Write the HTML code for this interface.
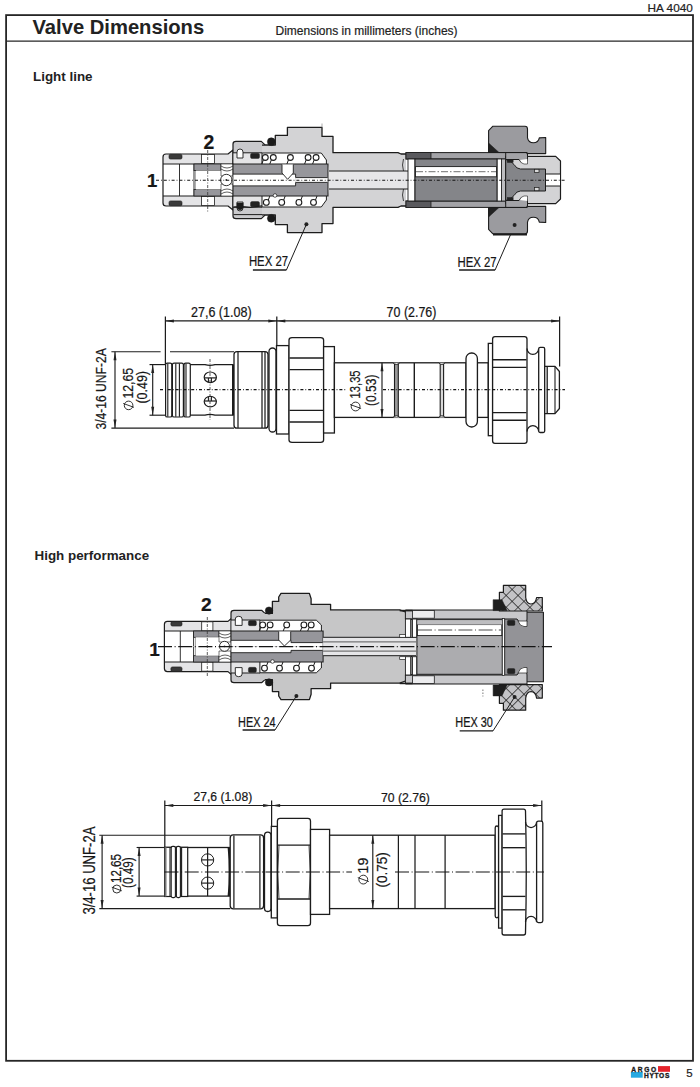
<!DOCTYPE html>
<html><head><meta charset="utf-8"><style>
html,body{margin:0;padding:0;background:#fff;}
body{width:700px;height:1087px;position:relative;overflow:hidden;font-family:"Liberation Sans",sans-serif;color:#222;}
.t{position:absolute;white-space:nowrap;line-height:1;}
svg{position:absolute;left:0;top:0;}
svg text{font-family:"Liberation Sans",sans-serif;fill:#161616;stroke:#161616;stroke-width:0.22px;}
</style></head><body>
<div class="t" style="left:647.6px;top:3.0px;font-size:11.8px;-webkit-text-stroke:0.2px #222;">HA 4040</div>

<div class="t" style="left:32.5px;top:16.7px;font-size:20.2px;font-weight:700;">Valve Dimensions</div>
<div class="t" style="left:275.5px;top:24.6px;font-size:12px;-webkit-text-stroke:0.2px #222;">Dimensions in millimeters (inches)</div>
<div class="t" style="left:33px;top:70.3px;font-size:13.4px;font-weight:700;">Light line</div>
<div class="t" style="left:34.5px;top:548.6px;font-size:13.4px;font-weight:700;">High performance</div>
<svg width="700" height="1087" viewBox="0 0 700 1087">
<defs><clipPath id="c1"><rect x="0" y="0" width="700" height="180"/></clipPath><clipPath id="c3"><rect x="0" y="500" width="700" height="146.5"/></clipPath><clipPath id="c3r"><rect x="0" y="500" width="700" height="147"/></clipPath><pattern id="xh" patternUnits="userSpaceOnUse" width="8.4" height="8.4" patternTransform="translate(512.1,600.7) rotate(45)"><rect width="8.4" height="8.4" fill="#c3c3c6"/><path d="M0,0 L8.4,0 M0,0 L0,8.4" stroke="#151515" stroke-width="1.25"/></pattern></defs>
<rect x="6.1" y="15.1" width="686.9" height="1045.7" fill="none" stroke="#262626" stroke-width="1.8"/>
<line x1="6" y1="41.1" x2="693" y2="41.1" stroke="#262626" stroke-width="1.2"/>
<g clip-path="url(#c1)"><path d="M163,184 L163,157 Q163,154 166,154 L228,154 L233,150 L233,164 L163,164" fill="#e4e4e6" stroke="#1c1c1c" stroke-width="1.2" stroke-linejoin="round" /><rect x="169" y="154.3" width="13" height="4.8" rx="1.5" fill="#3a3a3a" stroke="#1c1c1c" stroke-width="0.6" /><rect x="201.5" y="154.5" width="13" height="9" rx="0" fill="#fff" stroke="#1c1c1c" stroke-width="0.8" /><line x1="179.5" y1="164" x2="179.5" y2="180" stroke="#1c1c1c" stroke-width="0.9" /><line x1="194" y1="164" x2="194" y2="180" stroke="#1c1c1c" stroke-width="0.9" /><line x1="196" y1="170" x2="196" y2="180" stroke="#1c1c1c" stroke-width="0.7" /><rect x="194" y="164" width="27" height="6.6" rx="0" fill="#96969b" stroke="#1c1c1c" stroke-width="0.8" /><rect x="196" y="170.6" width="25" height="13.400000000000006" rx="0" fill="#fff" stroke="none" /><path d="M221,164 L233,164 L233,176 L221,176 Z" fill="#fff" stroke="#1c1c1c" stroke-width="0.6" stroke-linejoin="round" /><path d="M221,166 Q227,170 233,166" fill="none" stroke="#1c1c1c" stroke-width="0.7" stroke-linejoin="round" /><path d="M221,169 Q227,173 233,169" fill="none" stroke="#1c1c1c" stroke-width="0.7" stroke-linejoin="round" /><path d="M233,164 L233,144 Q233,141.4 236,141.4 L261.3,141.4 L265.3,145.1 L275,145.1 L275,153 L262,153 L262,164 Z" fill="#c9c9cc" stroke="#1c1c1c" stroke-width="1.2" stroke-linejoin="round" /><rect x="233.6" y="152.8" width="28.4" height="11.2" rx="0" fill="#e4e4e6" stroke="none" /><line x1="233" y1="152.8" x2="262" y2="152.8" stroke="#1c1c1c" stroke-width="1.0" /><polygon points="262,153 262,145.1 275.3,145.1 275.3,135.4 287.4,135.4 287.4,127.4 322,127.4 322,136.4 333,136.4 333,152.7 398,152.7 401,154 406,154 406,184 329,184 329,169 326.4,160 321.3,152.5" fill="#d3d3d5" stroke="none" stroke-width="0" stroke-linejoin="round" /><path d="M262,145.1 L275.3,145.1 L275.3,135.4 L287.4,135.4 L287.4,127.4 L322,127.4 L322,136.4 L333,136.4 L333,152.7 L398,152.7 L401,154 L406,154" fill="none" stroke="#1c1c1c" stroke-width="1.3" stroke-linejoin="round" /><circle cx="271.3" cy="141.7" r="3.9" fill="#1a1a1a" stroke="#1c1c1c" stroke-width="0.5"/><path d="M237,158 L237,152 Q237,149 240,149 Q243,149 243,152 L243,158 Z" fill="#fff" stroke="#1c1c1c" stroke-width="0.9" stroke-linejoin="round" /><rect x="250.5" y="153.3" width="9" height="5.2" rx="1.5" fill="#222" stroke="#1c1c1c" stroke-width="0.4" /><path d="M262,153 L321.3,153 L326.4,160 L326.4,169 L262,169 Z" fill="#fff" stroke="#1c1c1c" stroke-width="1.0" stroke-linejoin="round" /><rect x="233" y="164" width="95" height="20" rx="0" fill="#96969b" stroke="#1c1c1c" stroke-width="1.0" /><rect x="233.5" y="174.1" width="62.1" height="9.900000000000006" rx="0" fill="#fff" stroke="none" /><line x1="233" y1="174.1" x2="295.6" y2="174.1" stroke="#1c1c1c" stroke-width="0.9" /><line x1="295.6" y1="174.1" x2="295.6" y2="177.6" stroke="#1c1c1c" stroke-width="0.9" /><rect x="295.6" y="177.6" width="32" height="6.400000000000006" rx="0" fill="#fff" stroke="none" /><line x1="295.6" y1="177.6" x2="327.6" y2="177.6" stroke="#1c1c1c" stroke-width="0.9" /><rect x="329" y="171" width="86" height="13" rx="0" fill="#e6e6e8" stroke="none" /><line x1="329" y1="171" x2="415" y2="171" stroke="#1c1c1c" stroke-width="1.0" /><rect x="406" y="152.6" width="121" height="6.4" rx="0" fill="#a3a3a7" stroke="#1c1c1c" stroke-width="1.0" /><rect x="406" y="152.6" width="25" height="6.4" rx="0" fill="#5a5a5e" stroke="#1c1c1c" stroke-width="0.8" /><path d="M403.5,159 Q401.5,165 403.5,171" fill="none" stroke="#1c1c1c" stroke-width="0.8" stroke-linejoin="round" /><rect x="408" y="159" width="7" height="25" rx="0" fill="#fff" stroke="#1c1c1c" stroke-width="0.9" /><rect x="497" y="159" width="4.5" height="25" rx="0" fill="#fff" stroke="#1c1c1c" stroke-width="0.8" /><rect x="501.5" y="159" width="4.2" height="25" rx="0" fill="#bdbdc0" stroke="#1c1c1c" stroke-width="0.8" /><path d="M505.7,184 L505.7,156.4 L555.7,156.4 L560.5,161 L560.5,184 Z" fill="#d3d3d5" stroke="#1c1c1c" stroke-width="1.2" stroke-linejoin="round" /><path d="M505.7,184 L505.7,159.5 Q511,160 514,164.5 Q516.5,169 520.5,169 L545.5,169 L545.5,184 Z" fill="#848589" stroke="#1c1c1c" stroke-width="1.0" stroke-linejoin="round" /><rect x="545.5" y="174" width="15" height="10" rx="0" fill="#fff" stroke="#1c1c1c" stroke-width="1.0" /><rect x="534.5" y="169.3" width="4.5" height="3.2" rx="0" fill="#d8d8d8" stroke="#1c1c1c" stroke-width="0.7" /><path d="M505.7,152.6 L527.5,152.6 L527.5,158 Q527.5,163 523.5,163 Q520.5,163 519,159.5 L505.7,159.5 Z" fill="#a3a3a7" stroke="#1c1c1c" stroke-width="1.0" stroke-linejoin="round" /><path d="M519.5,160 Q521,163.5 524,164 L527.5,164 L527.5,159" fill="#fff" stroke="#1c1c1c" stroke-width="0.6" stroke-linejoin="round" /><rect x="507.2" y="159.8" width="6" height="2.8" rx="0" fill="#222" stroke="#1c1c1c" stroke-width="0.3" /><path d="M488.6,152.5 L488.6,130.7 L492.9,126.2 L525,126.2 Q527.5,126.2 527.5,129 L527.5,137.9 A6,6 0 0 0 539.3,137.9 L545.7,137.5 L545.7,153.6 L527,153.6 L527,152.5 Z" fill="#9b9b9f" stroke="#1c1c1c" stroke-width="1.1" stroke-linejoin="round" /><path d="M488.6,143 L499,152.5 L488.6,152.5 Z" fill="#222" stroke="#1c1c1c" stroke-width="0.5" stroke-linejoin="round" /></g><g transform="matrix(1,0,0,-1,0,360)"><g clip-path="url(#c1)"><path d="M163,184 L163,157 Q163,154 166,154 L228,154 L233,150 L233,164 L163,164" fill="#e4e4e6" stroke="#1c1c1c" stroke-width="1.2" stroke-linejoin="round" /><rect x="169" y="154.3" width="13" height="4.8" rx="1.5" fill="#3a3a3a" stroke="#1c1c1c" stroke-width="0.6" /><rect x="201.5" y="154.5" width="13" height="9" rx="0" fill="#fff" stroke="#1c1c1c" stroke-width="0.8" /><line x1="179.5" y1="164" x2="179.5" y2="180" stroke="#1c1c1c" stroke-width="0.9" /><line x1="194" y1="164" x2="194" y2="180" stroke="#1c1c1c" stroke-width="0.9" /><line x1="196" y1="170" x2="196" y2="180" stroke="#1c1c1c" stroke-width="0.7" /><rect x="194" y="164" width="27" height="6.6" rx="0" fill="#96969b" stroke="#1c1c1c" stroke-width="0.8" /><rect x="196" y="170.6" width="25" height="13.400000000000006" rx="0" fill="#fff" stroke="none" /><path d="M221,164 L233,164 L233,176 L221,176 Z" fill="#fff" stroke="#1c1c1c" stroke-width="0.6" stroke-linejoin="round" /><path d="M221,166 Q227,170 233,166" fill="none" stroke="#1c1c1c" stroke-width="0.7" stroke-linejoin="round" /><path d="M221,169 Q227,173 233,169" fill="none" stroke="#1c1c1c" stroke-width="0.7" stroke-linejoin="round" /><path d="M233,164 L233,144 Q233,141.4 236,141.4 L261.3,141.4 L265.3,145.1 L275,145.1 L275,153 L262,153 L262,164 Z" fill="#c9c9cc" stroke="#1c1c1c" stroke-width="1.2" stroke-linejoin="round" /><rect x="233.6" y="152.8" width="28.4" height="11.2" rx="0" fill="#e4e4e6" stroke="none" /><line x1="233" y1="152.8" x2="262" y2="152.8" stroke="#1c1c1c" stroke-width="1.0" /><polygon points="262,153 262,145.1 275.3,145.1 275.3,135.4 287.4,135.4 287.4,127.4 322,127.4 322,136.4 333,136.4 333,152.7 398,152.7 401,154 406,154 406,184 329,184 329,169 326.4,160 321.3,152.5" fill="#d3d3d5" stroke="none" stroke-width="0" stroke-linejoin="round" /><path d="M262,145.1 L275.3,145.1 L275.3,135.4 L287.4,135.4 L287.4,127.4 L322,127.4 L322,136.4 L333,136.4 L333,152.7 L398,152.7 L401,154 L406,154" fill="none" stroke="#1c1c1c" stroke-width="1.3" stroke-linejoin="round" /><circle cx="271.3" cy="141.7" r="3.9" fill="#1a1a1a" stroke="#1c1c1c" stroke-width="0.5"/><path d="M237,158 L237,152 Q237,149 240,149 Q243,149 243,152 L243,158 Z" fill="#fff" stroke="#1c1c1c" stroke-width="0.9" stroke-linejoin="round" /><rect x="250.5" y="153.3" width="9" height="5.2" rx="1.5" fill="#222" stroke="#1c1c1c" stroke-width="0.4" /><path d="M262,153 L321.3,153 L326.4,160 L326.4,169 L262,169 Z" fill="#fff" stroke="#1c1c1c" stroke-width="1.0" stroke-linejoin="round" /><rect x="233" y="164" width="95" height="20" rx="0" fill="#96969b" stroke="#1c1c1c" stroke-width="1.0" /><rect x="233.5" y="174.1" width="62.1" height="9.900000000000006" rx="0" fill="#fff" stroke="none" /><line x1="233" y1="174.1" x2="295.6" y2="174.1" stroke="#1c1c1c" stroke-width="0.9" /><line x1="295.6" y1="174.1" x2="295.6" y2="177.6" stroke="#1c1c1c" stroke-width="0.9" /><rect x="295.6" y="177.6" width="32" height="6.400000000000006" rx="0" fill="#fff" stroke="none" /><line x1="295.6" y1="177.6" x2="327.6" y2="177.6" stroke="#1c1c1c" stroke-width="0.9" /><rect x="329" y="171" width="86" height="13" rx="0" fill="#e6e6e8" stroke="none" /><line x1="329" y1="171" x2="415" y2="171" stroke="#1c1c1c" stroke-width="1.0" /><rect x="406" y="152.6" width="121" height="6.4" rx="0" fill="#a3a3a7" stroke="#1c1c1c" stroke-width="1.0" /><rect x="406" y="152.6" width="25" height="6.4" rx="0" fill="#5a5a5e" stroke="#1c1c1c" stroke-width="0.8" /><path d="M403.5,159 Q401.5,165 403.5,171" fill="none" stroke="#1c1c1c" stroke-width="0.8" stroke-linejoin="round" /><rect x="408" y="159" width="7" height="25" rx="0" fill="#fff" stroke="#1c1c1c" stroke-width="0.9" /><rect x="497" y="159" width="4.5" height="25" rx="0" fill="#fff" stroke="#1c1c1c" stroke-width="0.8" /><rect x="501.5" y="159" width="4.2" height="25" rx="0" fill="#bdbdc0" stroke="#1c1c1c" stroke-width="0.8" /><path d="M505.7,184 L505.7,156.4 L555.7,156.4 L560.5,161 L560.5,184 Z" fill="#d3d3d5" stroke="#1c1c1c" stroke-width="1.2" stroke-linejoin="round" /><path d="M505.7,184 L505.7,159.5 Q511,160 514,164.5 Q516.5,169 520.5,169 L545.5,169 L545.5,184 Z" fill="#848589" stroke="#1c1c1c" stroke-width="1.0" stroke-linejoin="round" /><rect x="545.5" y="174" width="15" height="10" rx="0" fill="#fff" stroke="#1c1c1c" stroke-width="1.0" /><rect x="534.5" y="169.3" width="4.5" height="3.2" rx="0" fill="#d8d8d8" stroke="#1c1c1c" stroke-width="0.7" /><path d="M505.7,152.6 L527.5,152.6 L527.5,158 Q527.5,163 523.5,163 Q520.5,163 519,159.5 L505.7,159.5 Z" fill="#a3a3a7" stroke="#1c1c1c" stroke-width="1.0" stroke-linejoin="round" /><path d="M519.5,160 Q521,163.5 524,164 L527.5,164 L527.5,159" fill="#fff" stroke="#1c1c1c" stroke-width="0.6" stroke-linejoin="round" /><rect x="507.2" y="159.8" width="6" height="2.8" rx="0" fill="#222" stroke="#1c1c1c" stroke-width="0.3" /><path d="M488.6,152.5 L488.6,130.7 L492.9,126.2 L525,126.2 Q527.5,126.2 527.5,129 L527.5,137.9 A6,6 0 0 0 539.3,137.9 L545.7,137.5 L545.7,153.6 L527,153.6 L527,152.5 Z" fill="#9b9b9f" stroke="#1c1c1c" stroke-width="1.1" stroke-linejoin="round" /><path d="M488.6,143 L499,152.5 L488.6,152.5 Z" fill="#222" stroke="#1c1c1c" stroke-width="0.5" stroke-linejoin="round" /></g></g><line x1="322" y1="123.5" x2="322" y2="127.4" stroke="#888" stroke-width="0.7" /><path d="M237,203 L237,208 Q240,212 243,208 L243,203 Z" fill="#1a1a1a" stroke="#1c1c1c" stroke-width="0.6" stroke-linejoin="round" /><line x1="233.5" y1="214.6" x2="262" y2="214.6" stroke="#1c1c1c" stroke-width="1.0" /><path d="M233.5,207.2 Q240,206 250,207.5 L262,205.8" fill="none" stroke="#1c1c1c" stroke-width="1.2" stroke-linejoin="round" /><circle cx="265.3" cy="157.5" r="2.9" fill="#fff" stroke="#1c1c1c" stroke-width="1.1"/><path d="M263.3,160 L261.8,164" fill="none" stroke="#1c1c1c" stroke-width="1.0" stroke-linejoin="round" /><circle cx="273.3" cy="157.5" r="2.9" fill="#fff" stroke="#1c1c1c" stroke-width="1.1"/><path d="M271.3,160 L269.8,164" fill="none" stroke="#1c1c1c" stroke-width="1.0" stroke-linejoin="round" /><circle cx="290.4" cy="157.5" r="2.9" fill="#fff" stroke="#1c1c1c" stroke-width="1.1"/><path d="M288.4,160 L286.9,164" fill="none" stroke="#1c1c1c" stroke-width="1.0" stroke-linejoin="round" /><circle cx="308.1" cy="157.5" r="2.9" fill="#fff" stroke="#1c1c1c" stroke-width="1.1"/><path d="M306.1,160 L304.6,164" fill="none" stroke="#1c1c1c" stroke-width="1.0" stroke-linejoin="round" /><circle cx="316.1" cy="157.5" r="2.9" fill="#fff" stroke="#1c1c1c" stroke-width="1.1"/><path d="M314.1,160 L312.6,164" fill="none" stroke="#1c1c1c" stroke-width="1.0" stroke-linejoin="round" /><circle cx="266.3" cy="202.4" r="2.9" fill="#fff" stroke="#1c1c1c" stroke-width="1.1"/><path d="M268.3,200 L269.8,196" fill="none" stroke="#1c1c1c" stroke-width="1.0" stroke-linejoin="round" /><circle cx="281.7" cy="202.4" r="2.9" fill="#fff" stroke="#1c1c1c" stroke-width="1.1"/><path d="M283.7,200 L285.2,196" fill="none" stroke="#1c1c1c" stroke-width="1.0" stroke-linejoin="round" /><circle cx="298.9" cy="202.4" r="2.9" fill="#fff" stroke="#1c1c1c" stroke-width="1.1"/><path d="M300.9,200 L302.4,196" fill="none" stroke="#1c1c1c" stroke-width="1.0" stroke-linejoin="round" /><circle cx="313.5" cy="202.4" r="2.9" fill="#fff" stroke="#1c1c1c" stroke-width="1.1"/><path d="M315.5,200 L317.0,196" fill="none" stroke="#1c1c1c" stroke-width="1.0" stroke-linejoin="round" /><path d="M282,164.5 L282,173 L287.6,179.3 L293.3,173 L293.3,164.5" fill="#fff" stroke="#1c1c1c" stroke-width="0.9" stroke-linejoin="round" /><circle cx="226.3" cy="180" r="5.7" fill="#fff" stroke="#1c1c1c" stroke-width="0.9"/><circle cx="226.3" cy="180" r="0.9" fill="#333" stroke="#1c1c1c" stroke-width="0"/><rect x="415" y="159" width="82" height="42" rx="0" fill="#848589" stroke="#1c1c1c" stroke-width="1.0" /><rect x="415.5" y="166.6" width="81" height="10.2" rx="0" fill="#fff" stroke="#1c1c1c" stroke-width="0.9" /><line x1="416" y1="171.7" x2="496" y2="171.7" stroke="#333" stroke-width="0.7" stroke-dasharray="7 2 1.5 2"/><line x1="156" y1="180.2" x2="566" y2="180.2" stroke="#141414" stroke-width="1.1" stroke-dasharray="3 2 0.8 2"/><line x1="207.7" y1="150" x2="207.7" y2="212" stroke="#333" stroke-width="0.8" stroke-dasharray="3 1.5 1 1.5"/><line x1="493" y1="234.5" x2="527" y2="234.5" stroke="#1c1c1c" stroke-width="1.8" /><circle cx="275" cy="195.5" r="1.8" fill="#fff" stroke="#1c1c1c" stroke-width="0.7"/><circle cx="306.4" cy="224.3" r="2.0" fill="#222" stroke="#1c1c1c" stroke-width="0"/><circle cx="514.6" cy="225.1" r="2.0" fill="#222" stroke="#1c1c1c" stroke-width="0"/><line x1="306.4" y1="224.3" x2="286.4" y2="270" stroke="#1c1c1c" stroke-width="1.0" /><line x1="252.9" y1="270" x2="286.4" y2="270" stroke="#1c1c1c" stroke-width="1.4" /><line x1="510.6" y1="234.5" x2="495.1" y2="270" stroke="#1c1c1c" stroke-width="1.0" /><line x1="459.1" y1="270" x2="495.1" y2="270" stroke="#1c1c1c" stroke-width="1.4" /><text x="248.9" y="265.6" font-size="14.8" font-weight="400" text-anchor="start" textLength="39.2" lengthAdjust="spacingAndGlyphs" >HEX 27</text><text x="457.5" y="266.5" font-size="14.8" font-weight="400" text-anchor="start" textLength="39.2" lengthAdjust="spacingAndGlyphs" >HEX 27</text><text x="147" y="187" font-size="18.5" font-weight="700" text-anchor="start"  >1</text><text x="203.6" y="148.6" font-size="19.4" font-weight="700" text-anchor="start"  >2</text>
<line x1="165.4" y1="320.9" x2="559.6" y2="320.9" stroke="#1c1c1c" stroke-width="1.15" /><polygon points="165.4,320.9 173.9,319.4 173.9,322.4" fill="#222" stroke="none"/><polygon points="276.8,320.9 268.3,319.4 268.3,322.4" fill="#222" stroke="none"/><polygon points="276.8,320.9 285.3,319.4 285.3,322.4" fill="#222" stroke="none"/><polygon points="559.6,320.9 551.1,319.4 551.1,322.4" fill="#222" stroke="none"/><line x1="165.4" y1="316.5" x2="165.4" y2="364.6" stroke="#1c1c1c" stroke-width="1.25" /><line x1="276.8" y1="316.5" x2="276.8" y2="345.6" stroke="#1c1c1c" stroke-width="1.25" /><line x1="559.6" y1="316.5" x2="559.6" y2="366.5" stroke="#1c1c1c" stroke-width="1.25" /><text x="191.0" y="316.8" font-size="14.0" font-weight="400" text-anchor="start" textLength="60.6" lengthAdjust="spacingAndGlyphs" >27,6 (1.08)</text><text x="386.6" y="317.1" font-size="14.0" font-weight="400" text-anchor="start" textLength="49.8" lengthAdjust="spacingAndGlyphs" >70 (2.76)</text><line x1="111.4" y1="351.7" x2="160.6" y2="351.7" stroke="#1c1c1c" stroke-width="1.15" /><line x1="170" y1="351.7" x2="234" y2="351.7" stroke="#1c1c1c" stroke-width="1.15" /><line x1="111.4" y1="428.1" x2="234" y2="428.1" stroke="#1c1c1c" stroke-width="1.15" /><line x1="115" y1="351.7" x2="115" y2="428.1" stroke="#1c1c1c" stroke-width="1.15" /><polygon points="115,351.7 113.5,360.2 116.5,360.2" fill="#222" stroke="none"/><polygon points="115,428.1 113.5,419.6 116.5,419.6" fill="#222" stroke="none"/><text x="0" y="0" font-size="15.4" text-anchor="start" textLength="81.4" lengthAdjust="spacingAndGlyphs" transform="translate(106.4,429.6) rotate(-90)">3/4-16 UNF-2A</text><line x1="149.5" y1="364.6" x2="166" y2="364.6" stroke="#1c1c1c" stroke-width="1.15" /><line x1="149.5" y1="415.2" x2="166" y2="415.2" stroke="#1c1c1c" stroke-width="1.15" /><line x1="152.7" y1="364.6" x2="152.7" y2="415.2" stroke="#1c1c1c" stroke-width="1.15" /><polygon points="152.7,364.6 151.2,373.1 154.2,373.1" fill="#222" stroke="none"/><polygon points="152.7,415.2 151.2,406.7 154.2,406.7" fill="#222" stroke="none"/><text x="0" y="0" font-size="14.5" text-anchor="start" textLength="30.8" lengthAdjust="spacingAndGlyphs" transform="translate(133.2,398.6) rotate(-90)">12,65</text><circle cx="128.6" cy="405.4" r="4.3" fill="none" stroke="#1c1c1c" stroke-width="0.9"/><line x1="123.225" y1="403.465" x2="133.975" y2="407.335" stroke="#1c1c1c" stroke-width="0.9" /><text x="0" y="0" font-size="13.8" text-anchor="start" textLength="32.6" lengthAdjust="spacingAndGlyphs" transform="translate(146.8,403.6) rotate(-90)">(0.49)</text><path d="M166,364.6 L205,364.6 Q210,366.2 215,364.6 L233,364.6 L233,415.2 L215,415.2 Q210,413.6 205,415.2 L166,415.2 Z" fill="#fff" stroke="#1c1c1c" stroke-width="1.3" stroke-linejoin="round" /><rect x="165.6" y="363.2" width="6.200000000000017" height="53.8" rx="1.6" fill="#fff" stroke="#1c1c1c" stroke-width="1.2" /><line x1="167.8" y1="363.6" x2="167.8" y2="416.8" stroke="#1c1c1c" stroke-width="1.1" /><rect x="172.4" y="363.2" width="11.0" height="53.8" rx="1.6" fill="#fff" stroke="#1c1c1c" stroke-width="1.2" /><line x1="175.8" y1="363.6" x2="175.8" y2="416.8" stroke="#1c1c1c" stroke-width="1.1" /><line x1="179.4" y1="363.6" x2="179.4" y2="416.8" stroke="#1c1c1c" stroke-width="1.1" /><rect x="184.0" y="363.2" width="6.300000000000011" height="53.8" rx="1.6" fill="#fff" stroke="#1c1c1c" stroke-width="1.2" /><line x1="186.0" y1="363.6" x2="186.0" y2="416.8" stroke="#1c1c1c" stroke-width="1.1" /><ellipse cx="210.3" cy="377.3" rx="6.1" ry="5.3" fill="#fff" stroke="#1c1c1c" stroke-width="1.2"/><line x1="204.4" y1="377.90000000000003" x2="216.2" y2="377.90000000000003" stroke="#1c1c1c" stroke-width="1.2" /><line x1="208.4" y1="377.90000000000003" x2="208.4" y2="381.90000000000003" stroke="#1c1c1c" stroke-width="1.1" /><line x1="211.4" y1="377.90000000000003" x2="211.4" y2="381.90000000000003" stroke="#1c1c1c" stroke-width="1.1" /><ellipse cx="210.3" cy="401.6" rx="6.1" ry="5.3" fill="#fff" stroke="#1c1c1c" stroke-width="1.2"/><line x1="204.4" y1="401.0" x2="216.2" y2="401.0" stroke="#1c1c1c" stroke-width="1.2" /><line x1="208.4" y1="401.0" x2="208.4" y2="397.0" stroke="#1c1c1c" stroke-width="1.1" /><line x1="211.4" y1="401.0" x2="211.4" y2="397.0" stroke="#1c1c1c" stroke-width="1.1" /><line x1="210" y1="359" x2="210" y2="420" stroke="#333" stroke-width="0.8" stroke-dasharray="3 1.5 1 1.5"/><rect x="232" y="364.6" width="2" height="50.6" rx="0" fill="#1c1c1c" stroke="none" /><rect x="234" y="351.6" width="34" height="76.6" rx="3" fill="#fff" stroke="#1c1c1c" stroke-width="1.3" /><line x1="238" y1="352" x2="238" y2="428" stroke="#1c1c1c" stroke-width="1.25" /><line x1="262" y1="352" x2="262" y2="428" stroke="#1c1c1c" stroke-width="1.25" /><line x1="265" y1="352" x2="265" y2="428" stroke="#1c1c1c" stroke-width="1.25" /><rect x="269" y="348" width="7" height="84" rx="3.5" fill="#fff" stroke="#1c1c1c" stroke-width="1.3" /><rect x="276.5" y="345.6" width="12.5" height="88.4" rx="0" fill="#fff" stroke="#1c1c1c" stroke-width="1.3" /><path d="M289,340 Q289,337.6 292,337.6 L320.6,337.6 Q323.6,337.6 323.6,340 L323.6,440 Q323.6,442.4 320.6,442.4 L292,442.4 Q289,442.4 289,440 Z" fill="#fff" stroke="#1c1c1c" stroke-width="1.3" stroke-linejoin="round" /><line x1="289.5" y1="358" x2="323" y2="358" stroke="#1c1c1c" stroke-width="1.35" /><line x1="289.5" y1="369.6" x2="323" y2="369.6" stroke="#1c1c1c" stroke-width="1.35" /><line x1="289.5" y1="410.4" x2="323" y2="410.4" stroke="#1c1c1c" stroke-width="1.35" /><line x1="289.5" y1="422" x2="323" y2="422" stroke="#1c1c1c" stroke-width="1.35" /><rect x="323.6" y="346.6" width="10.8" height="86.4" rx="0" fill="#fff" stroke="#1c1c1c" stroke-width="1.3" /><rect x="334.4" y="362.8" width="131.6" height="54.6" rx="0" fill="#fff" stroke="#1c1c1c" stroke-width="1.3" /><rect x="477.4" y="362.8" width="10.9" height="54.6" rx="0" fill="#fff" stroke="#1c1c1c" stroke-width="1.3" /><rect x="394.5" y="363.4" width="3.8" height="53.6" rx="0" fill="#9a9a9a" stroke="#1c1c1c" stroke-width="1.1" /><path d="M393,362.8 Q396.4,366 399.8,362.8 M393,417.4 Q396.4,414.2 399.8,417.4" fill="#fff" stroke="#1c1c1c" stroke-width="1.0" stroke-linejoin="round" /><line x1="414.3" y1="363" x2="414.3" y2="417.4" stroke="#1c1c1c" stroke-width="1.4" /><rect x="440.2" y="363.4" width="3.4" height="53.6" rx="0" fill="#d8d8d8" stroke="#1c1c1c" stroke-width="1.1" /><path d="M438.8,362.8 Q441.9,366 445,362.8 M438.8,417.4 Q441.9,414.2 445,417.4" fill="#fff" stroke="#1c1c1c" stroke-width="1.0" stroke-linejoin="round" /><line x1="382" y1="362.8" x2="382" y2="417.4" stroke="#1c1c1c" stroke-width="1.15" /><polygon points="382,362.8 380.5,371.3 383.5,371.3" fill="#222" stroke="none"/><polygon points="382,417.4 380.5,408.9 383.5,408.9" fill="#222" stroke="none"/><text x="0" y="0" font-size="14.5" text-anchor="start" textLength="28.0" lengthAdjust="spacingAndGlyphs" transform="translate(360.4,398.4) rotate(-90)">13,35</text><circle cx="355.6" cy="406.5" r="4.4" fill="none" stroke="#1c1c1c" stroke-width="0.9"/><line x1="350.1" y1="404.52" x2="361.1" y2="408.48" stroke="#1c1c1c" stroke-width="0.9" /><text x="0" y="0" font-size="14.6" text-anchor="start" textLength="31.6" lengthAdjust="spacingAndGlyphs" transform="translate(376.4,406.0) rotate(-90)">(0.53)</text><rect x="466" y="353" width="11.4" height="74" rx="5.5" fill="#fff" stroke="#1c1c1c" stroke-width="1.3" /><rect x="488.3" y="343.4" width="4.3" height="92.3" rx="0" fill="#fff" stroke="#1c1c1c" stroke-width="1.3" /><path d="M492.6,339 Q492.6,336.6 495,336.6 L524.5,336.6 Q527,336.6 527,339 L527,441 Q527,443.3 524.5,443.3 L495,443.3 Q492.6,443.3 492.6,441 Z" fill="#fff" stroke="#1c1c1c" stroke-width="1.3" stroke-linejoin="round" /><line x1="493" y1="359.7" x2="526.5" y2="359.7" stroke="#1c1c1c" stroke-width="1.35" /><line x1="493" y1="367.3" x2="526.5" y2="367.3" stroke="#1c1c1c" stroke-width="1.35" /><line x1="493" y1="412.6" x2="526.5" y2="412.6" stroke="#1c1c1c" stroke-width="1.35" /><line x1="493" y1="420.2" x2="526.5" y2="420.2" stroke="#1c1c1c" stroke-width="1.35" /><path d="M527,348.5 A5.85,5.85 0 0 0 538.7,348.5" fill="none" stroke="#1c1c1c" stroke-width="1.3" stroke-linejoin="round" /><path d="M527,431.5 A5.85,5.85 0 0 1 538.7,431.5" fill="none" stroke="#1c1c1c" stroke-width="1.3" stroke-linejoin="round" /><rect x="538.7" y="347.4" width="6" height="85.1" rx="1.5" fill="#fff" stroke="#1c1c1c" stroke-width="1.3" /><path d="M544.7,366.4 L555,366.4 L559.4,371.5 L559.4,408.5 L555,413.6 L544.7,413.6 Z" fill="#fff" stroke="#1c1c1c" stroke-width="1.3" stroke-linejoin="round" /><line x1="547.2" y1="366.8" x2="547.2" y2="413.2" stroke="#1c1c1c" stroke-width="1.3" /><line x1="555" y1="367" x2="555" y2="413" stroke="#1c1c1c" stroke-width="1.1" /><line x1="160" y1="389.6" x2="346" y2="389.6" stroke="#141414" stroke-width="1.1" stroke-dasharray="3 2 0.8 2"/><line x1="383" y1="389.6" x2="565" y2="389.6" stroke="#141414" stroke-width="1.1" stroke-dasharray="3 2 0.8 2"/>
<g clip-path="url(#c3)"><path d="M164.4,650.5 L164.4,624.4 Q164.4,621.4 167.4,621.4 L228,621.4 L233,617 L233,631 L164.4,631" fill="#e4e4e6" stroke="#1c1c1c" stroke-width="1.2" stroke-linejoin="round" /><rect x="170.9" y="621.6" width="11.1" height="4.5" rx="1.5" fill="#3a3a3a" stroke="#1c1c1c" stroke-width="0.6" /><rect x="201.7" y="621.8" width="11.2" height="9" rx="0" fill="#fff" stroke="#1c1c1c" stroke-width="0.8" /><line x1="180.3" y1="631" x2="180.3" y2="646.5" stroke="#1c1c1c" stroke-width="0.9" /><line x1="193.6" y1="631" x2="193.6" y2="646.5" stroke="#1c1c1c" stroke-width="0.9" /><line x1="195.6" y1="637" x2="195.6" y2="646.5" stroke="#1c1c1c" stroke-width="0.7" /><rect x="193.6" y="631" width="25.4" height="6.3" rx="0" fill="#96969b" stroke="#1c1c1c" stroke-width="0.8" /><rect x="195.6" y="637.3" width="23.4" height="13.200000000000045" rx="0" fill="#fff" stroke="none" /><path d="M219,631 L231,631 L231,642 L219,642 Z" fill="#fff" stroke="#1c1c1c" stroke-width="0.6" stroke-linejoin="round" /><path d="M219,633 Q225,637 231,633" fill="none" stroke="#1c1c1c" stroke-width="0.7" stroke-linejoin="round" /><path d="M219,636 Q225,640 231,636" fill="none" stroke="#1c1c1c" stroke-width="0.7" stroke-linejoin="round" /><path d="M231,631 L231,613 Q231,610.3 234,610.3 L261.6,610.3 L265,613.4 L272.4,613.4 L272.4,620 L259.9,620 L259.9,631 Z" fill="#c9c9cc" stroke="#1c1c1c" stroke-width="1.2" stroke-linejoin="round" /><rect x="231.6" y="620" width="28.3" height="11" rx="0" fill="#e4e4e6" stroke="none" /><line x1="231" y1="620" x2="259.9" y2="620" stroke="#1c1c1c" stroke-width="1.0" /><polygon points="259.9,620 259.9,613.4 272.4,613.4 272.4,601.4 278.7,601.4 278.7,597 281,593.4 309.4,593.4 311.1,598.7 311.1,604.4 330.6,604.4 330.6,609.9 399.7,609.9 405.4,612 405.4,650.5 323.1,650.5 323.1,635 321.4,625 316.3,620.2" fill="#c6c6c7" stroke="none" stroke-width="0" stroke-linejoin="round" /><path d="M265,613.4 L272.4,613.4 L272.4,601.4 L278.7,601.4 L278.7,597 L281,593.4 L309.4,593.4 L311.1,598.7 L311.1,604.4 L330.6,604.4 L330.6,609.9 L399.7,609.9 L405.4,612" fill="none" stroke="#1c1c1c" stroke-width="1.3" stroke-linejoin="round" /><circle cx="269" cy="610.6" r="3.7" fill="#1a1a1a" stroke="#1c1c1c" stroke-width="0.5"/><path d="M235.3,625.4 L235.3,619 Q235.3,616.3 238.7,616.3 Q242.1,616.3 242.1,619 L242.1,625.4 Z" fill="#fff" stroke="#1c1c1c" stroke-width="0.9" stroke-linejoin="round" /><rect x="248.4" y="620.6" width="8" height="5.1" rx="1.5" fill="#222" stroke="#1c1c1c" stroke-width="0.4" /><path d="M259.9,620.2 L316.3,620.2 L321.4,625 L321.4,635.3 L259.9,635.3 Z" fill="#fff" stroke="#1c1c1c" stroke-width="1.0" stroke-linejoin="round" /><rect x="231" y="631" width="92.1" height="19.5" rx="0" fill="#96969b" stroke="#1c1c1c" stroke-width="1.0" /><rect x="231.5" y="640.3" width="59.5" height="10.200000000000045" rx="0" fill="#fff" stroke="none" /><line x1="231" y1="640.3" x2="291" y2="640.3" stroke="#1c1c1c" stroke-width="0.9" /><line x1="291" y1="640.3" x2="291" y2="642.6" stroke="#1c1c1c" stroke-width="0.9" /><rect x="291" y="642.6" width="31.6" height="7.899999999999977" rx="0" fill="#fff" stroke="none" /><line x1="291" y1="642.6" x2="322.6" y2="642.6" stroke="#1c1c1c" stroke-width="0.9" /><rect x="323.1" y="637.3" width="93" height="13.200000000000045" rx="0" fill="#e6e6e8" stroke="none" /><line x1="323.1" y1="637.3" x2="416" y2="637.3" stroke="#1c1c1c" stroke-width="1.0" /><line x1="323.1" y1="641.9" x2="416" y2="641.9" stroke="#1c1c1c" stroke-width="0.7" /></g><g transform="matrix(1,0,0,-1,0,1293.0)"><g clip-path="url(#c3)"><path d="M164.4,650.5 L164.4,624.4 Q164.4,621.4 167.4,621.4 L228,621.4 L233,617 L233,631 L164.4,631" fill="#e4e4e6" stroke="#1c1c1c" stroke-width="1.2" stroke-linejoin="round" /><rect x="170.9" y="621.6" width="11.1" height="4.5" rx="1.5" fill="#3a3a3a" stroke="#1c1c1c" stroke-width="0.6" /><rect x="201.7" y="621.8" width="11.2" height="9" rx="0" fill="#fff" stroke="#1c1c1c" stroke-width="0.8" /><line x1="180.3" y1="631" x2="180.3" y2="646.5" stroke="#1c1c1c" stroke-width="0.9" /><line x1="193.6" y1="631" x2="193.6" y2="646.5" stroke="#1c1c1c" stroke-width="0.9" /><line x1="195.6" y1="637" x2="195.6" y2="646.5" stroke="#1c1c1c" stroke-width="0.7" /><rect x="193.6" y="631" width="25.4" height="6.3" rx="0" fill="#96969b" stroke="#1c1c1c" stroke-width="0.8" /><rect x="195.6" y="637.3" width="23.4" height="13.200000000000045" rx="0" fill="#fff" stroke="none" /><path d="M219,631 L231,631 L231,642 L219,642 Z" fill="#fff" stroke="#1c1c1c" stroke-width="0.6" stroke-linejoin="round" /><path d="M219,633 Q225,637 231,633" fill="none" stroke="#1c1c1c" stroke-width="0.7" stroke-linejoin="round" /><path d="M219,636 Q225,640 231,636" fill="none" stroke="#1c1c1c" stroke-width="0.7" stroke-linejoin="round" /><path d="M231,631 L231,613 Q231,610.3 234,610.3 L261.6,610.3 L265,613.4 L272.4,613.4 L272.4,620 L259.9,620 L259.9,631 Z" fill="#c9c9cc" stroke="#1c1c1c" stroke-width="1.2" stroke-linejoin="round" /><rect x="231.6" y="620" width="28.3" height="11" rx="0" fill="#e4e4e6" stroke="none" /><line x1="231" y1="620" x2="259.9" y2="620" stroke="#1c1c1c" stroke-width="1.0" /><polygon points="259.9,620 259.9,613.4 272.4,613.4 272.4,601.4 278.7,601.4 278.7,597 281,593.4 309.4,593.4 311.1,598.7 311.1,604.4 330.6,604.4 330.6,609.9 399.7,609.9 405.4,612 405.4,650.5 323.1,650.5 323.1,635 321.4,625 316.3,620.2" fill="#c6c6c7" stroke="none" stroke-width="0" stroke-linejoin="round" /><path d="M265,613.4 L272.4,613.4 L272.4,601.4 L278.7,601.4 L278.7,597 L281,593.4 L309.4,593.4 L311.1,598.7 L311.1,604.4 L330.6,604.4 L330.6,609.9 L399.7,609.9 L405.4,612" fill="none" stroke="#1c1c1c" stroke-width="1.3" stroke-linejoin="round" /><circle cx="269" cy="610.6" r="3.7" fill="#1a1a1a" stroke="#1c1c1c" stroke-width="0.5"/><path d="M235.3,625.4 L235.3,619 Q235.3,616.3 238.7,616.3 Q242.1,616.3 242.1,619 L242.1,625.4 Z" fill="#fff" stroke="#1c1c1c" stroke-width="0.9" stroke-linejoin="round" /><rect x="248.4" y="620.6" width="8" height="5.1" rx="1.5" fill="#222" stroke="#1c1c1c" stroke-width="0.4" /><path d="M259.9,620.2 L316.3,620.2 L321.4,625 L321.4,635.3 L259.9,635.3 Z" fill="#fff" stroke="#1c1c1c" stroke-width="1.0" stroke-linejoin="round" /><rect x="231" y="631" width="92.1" height="19.5" rx="0" fill="#96969b" stroke="#1c1c1c" stroke-width="1.0" /><rect x="231.5" y="640.3" width="59.5" height="10.200000000000045" rx="0" fill="#fff" stroke="none" /><line x1="231" y1="640.3" x2="291" y2="640.3" stroke="#1c1c1c" stroke-width="0.9" /><line x1="291" y1="640.3" x2="291" y2="642.6" stroke="#1c1c1c" stroke-width="0.9" /><rect x="291" y="642.6" width="31.6" height="7.899999999999977" rx="0" fill="#fff" stroke="none" /><line x1="291" y1="642.6" x2="322.6" y2="642.6" stroke="#1c1c1c" stroke-width="0.9" /><rect x="323.1" y="637.3" width="93" height="13.200000000000045" rx="0" fill="#e6e6e8" stroke="none" /><line x1="323.1" y1="637.3" x2="416" y2="637.3" stroke="#1c1c1c" stroke-width="1.0" /><line x1="323.1" y1="641.9" x2="416" y2="641.9" stroke="#1c1c1c" stroke-width="0.7" /></g></g><g clip-path="url(#c3r)"><path d="M504.6,651.0 L504.6,612.3 L543.4,612.3 L543.4,651.0 Z" fill="#939397" stroke="#1c1c1c" stroke-width="1.1" stroke-linejoin="round" /><path d="M405.4,610 L527,610 L527,619 Q527,625 523,625 Q520,625 519,622 L517,619 L405.4,619 Z" fill="#c8c8cb" stroke="#1c1c1c" stroke-width="1.0" stroke-linejoin="round" /><path d="M518,621 Q520,626.5 524,626.5 L527,626.5 L527,621 Z" fill="#fff" stroke="#1c1c1c" stroke-width="0.7" stroke-linejoin="round" /><rect x="412.6" y="610.6" width="21.7" height="7.6" rx="0" fill="#ececee" stroke="#1c1c1c" stroke-width="0.8" /><line x1="399.7" y1="610.6" x2="412.6" y2="610.6" stroke="#1c1c1c" stroke-width="1.6" /><rect x="405.4" y="619" width="5.4" height="18.3" rx="0" fill="#fff" stroke="#1c1c1c" stroke-width="0.9" /><rect x="410.8" y="619" width="1.6" height="18.3" rx="0" fill="#888" stroke="#1c1c1c" stroke-width="0.5" /><rect x="412.4" y="619" width="4.5" height="18.3" rx="0" fill="#fff" stroke="#1c1c1c" stroke-width="0.9" /><rect x="399.7" y="634.5" width="5.7" height="2.8" rx="0" fill="#fff" stroke="#1c1c1c" stroke-width="0.7" /><rect x="416.9" y="619.7" width="85.4" height="31.299999999999955" rx="0" fill="#acacaf" stroke="#1c1c1c" stroke-width="1.0" /><rect x="502.3" y="618.6" width="2.3" height="32.39999999999998" rx="0" fill="#fff" stroke="#1c1c1c" stroke-width="0.7" /><rect x="507.4" y="620.3" width="7.5" height="5.1" rx="1.2" fill="#222" stroke="#1c1c1c" stroke-width="0.4" /></g><g transform="matrix(1,0,0,-1,0,1294.0)"><g clip-path="url(#c3r)"><path d="M504.6,651.0 L504.6,612.3 L543.4,612.3 L543.4,651.0 Z" fill="#939397" stroke="#1c1c1c" stroke-width="1.1" stroke-linejoin="round" /><path d="M405.4,610 L527,610 L527,619 Q527,625 523,625 Q520,625 519,622 L517,619 L405.4,619 Z" fill="#c8c8cb" stroke="#1c1c1c" stroke-width="1.0" stroke-linejoin="round" /><path d="M518,621 Q520,626.5 524,626.5 L527,626.5 L527,621 Z" fill="#fff" stroke="#1c1c1c" stroke-width="0.7" stroke-linejoin="round" /><rect x="412.6" y="610.6" width="21.7" height="7.6" rx="0" fill="#ececee" stroke="#1c1c1c" stroke-width="0.8" /><line x1="399.7" y1="610.6" x2="412.6" y2="610.6" stroke="#1c1c1c" stroke-width="1.6" /><rect x="405.4" y="619" width="5.4" height="18.3" rx="0" fill="#fff" stroke="#1c1c1c" stroke-width="0.9" /><rect x="410.8" y="619" width="1.6" height="18.3" rx="0" fill="#888" stroke="#1c1c1c" stroke-width="0.5" /><rect x="412.4" y="619" width="4.5" height="18.3" rx="0" fill="#fff" stroke="#1c1c1c" stroke-width="0.9" /><rect x="399.7" y="634.5" width="5.7" height="2.8" rx="0" fill="#fff" stroke="#1c1c1c" stroke-width="0.7" /><rect x="416.9" y="619.7" width="85.4" height="31.299999999999955" rx="0" fill="#acacaf" stroke="#1c1c1c" stroke-width="1.0" /><rect x="502.3" y="618.6" width="2.3" height="32.39999999999998" rx="0" fill="#fff" stroke="#1c1c1c" stroke-width="0.7" /><rect x="507.4" y="620.3" width="7.5" height="5.1" rx="1.2" fill="#222" stroke="#1c1c1c" stroke-width="0.4" /></g></g><path d="M499.4,611 L499.4,592.3 L503.4,592.3 L503.4,585.4 L525.7,585.4 L525.7,597.5 Q526.5,604 531,604 Q535.6,604 536.6,597.5 L542.3,597.5 L542.3,611 Z" fill="url(#xh)" stroke="#1c1c1c" stroke-width="1.2" stroke-linejoin="round" /><path d="M493.1,610.6 L493.1,599.7 L502,599.7 L507,610.6 Z" fill="#1e1e1e" stroke="#1c1c1c" stroke-width="0.5" stroke-linejoin="round" /><g transform="matrix(1,0,0,-1,0,1295.6)"><path d="M499.4,611 L499.4,592.3 L503.4,592.3 L503.4,585.4 L525.7,585.4 L525.7,597.5 Q526.5,604 531,604 Q535.6,604 536.6,597.5 L542.3,597.5 L542.3,611 Z" fill="url(#xh)" stroke="#1c1c1c" stroke-width="1.2" stroke-linejoin="round" /><path d="M493.1,610.6 L493.1,599.7 L502,599.7 L507,610.6 Z" fill="#1e1e1e" stroke="#1c1c1c" stroke-width="0.5" stroke-linejoin="round" /></g><circle cx="262.7" cy="624.9" r="2.9" fill="#fff" stroke="#1c1c1c" stroke-width="1.1"/><path d="M260.7,627.3 L259.2,631" fill="none" stroke="#1c1c1c" stroke-width="1.0" stroke-linejoin="round" /><circle cx="270.1" cy="624.9" r="2.9" fill="#fff" stroke="#1c1c1c" stroke-width="1.1"/><path d="M268.1,627.3 L266.6,631" fill="none" stroke="#1c1c1c" stroke-width="1.0" stroke-linejoin="round" /><circle cx="286.7" cy="624.9" r="2.9" fill="#fff" stroke="#1c1c1c" stroke-width="1.1"/><path d="M284.7,627.3 L283.2,631" fill="none" stroke="#1c1c1c" stroke-width="1.0" stroke-linejoin="round" /><circle cx="303.9" cy="624.9" r="2.9" fill="#fff" stroke="#1c1c1c" stroke-width="1.1"/><path d="M301.9,627.3 L300.4,631" fill="none" stroke="#1c1c1c" stroke-width="1.0" stroke-linejoin="round" /><circle cx="311.2" cy="624.9" r="2.9" fill="#fff" stroke="#1c1c1c" stroke-width="1.1"/><path d="M309.2,627.3 L307.7,631" fill="none" stroke="#1c1c1c" stroke-width="1.0" stroke-linejoin="round" /><circle cx="264.5" cy="668.2" r="2.9" fill="#fff" stroke="#1c1c1c" stroke-width="1.1"/><path d="M266.5,665.8 L268.0,662" fill="none" stroke="#1c1c1c" stroke-width="1.0" stroke-linejoin="round" /><circle cx="279.5" cy="668.2" r="2.9" fill="#fff" stroke="#1c1c1c" stroke-width="1.1"/><path d="M281.5,665.8 L283.0,662" fill="none" stroke="#1c1c1c" stroke-width="1.0" stroke-linejoin="round" /><circle cx="296.5" cy="668.2" r="2.9" fill="#fff" stroke="#1c1c1c" stroke-width="1.1"/><path d="M298.5,665.8 L300.0,662" fill="none" stroke="#1c1c1c" stroke-width="1.0" stroke-linejoin="round" /><circle cx="311.5" cy="668.2" r="2.9" fill="#fff" stroke="#1c1c1c" stroke-width="1.1"/><path d="M313.5,665.8 L315.0,662" fill="none" stroke="#1c1c1c" stroke-width="1.0" stroke-linejoin="round" /><path d="M278.7,631.5 L278.7,640 L284.4,646 L290.7,640 L290.7,631.5" fill="#fff" stroke="#1c1c1c" stroke-width="0.9" stroke-linejoin="round" /><circle cx="224.5" cy="646.3" r="5.0" fill="#fff" stroke="#1c1c1c" stroke-width="0.9"/><circle cx="224.5" cy="646.3" r="0.9" fill="#333" stroke="#1c1c1c" stroke-width="0"/><rect x="417.4" y="624.6" width="84.4" height="11.0" rx="0" fill="#fff" stroke="#1c1c1c" stroke-width="0.9" /><line x1="418" y1="630" x2="501" y2="630" stroke="#222" stroke-width="0.8" stroke-dasharray="14 2.6 1 2.6"/><rect x="417.4" y="620.2" width="84.4" height="4.4" rx="0" fill="#bdbdc0" stroke="none" /><circle cx="272.5" cy="661.5" r="1.8" fill="#fff" stroke="#1c1c1c" stroke-width="0.7"/><line x1="158" y1="646.6" x2="552" y2="646.6" stroke="#141414" stroke-width="1.1" stroke-dasharray="14 2.6 1 2.6"/><line x1="482.9" y1="689.5" x2="482.9" y2="696.5" stroke="#555" stroke-width="0.8" stroke-dasharray="1.5 1.5"/><line x1="207.3" y1="617" x2="207.3" y2="676" stroke="#333" stroke-width="0.8" stroke-dasharray="3 1.5 1 1.5"/><circle cx="296.4" cy="696" r="2.0" fill="#222" stroke="#1c1c1c" stroke-width="0"/><line x1="296.4" y1="696" x2="275" y2="730" stroke="#1c1c1c" stroke-width="1.0" /><line x1="242.6" y1="730" x2="275" y2="730" stroke="#1c1c1c" stroke-width="1.4" /><text x="238.0" y="726.9" font-size="13.8" font-weight="400" text-anchor="start" textLength="37.6" lengthAdjust="spacingAndGlyphs" >HEX 24</text><circle cx="514.6" cy="697" r="2.0" fill="#222" stroke="#1c1c1c" stroke-width="0"/><line x1="514.6" y1="697" x2="493" y2="730.9" stroke="#1c1c1c" stroke-width="1.0" /><line x1="459.7" y1="730.9" x2="493" y2="730.9" stroke="#1c1c1c" stroke-width="1.4" /><text x="455.3" y="726.6" font-size="13.8" font-weight="400" text-anchor="start" textLength="37.6" lengthAdjust="spacingAndGlyphs" >HEX 30</text><text x="149.3" y="655.7" font-size="19" font-weight="700" text-anchor="start"  >1</text><text x="201.0" y="610.8" font-size="19.2" font-weight="700" text-anchor="start"  >2</text>
<line x1="164.8" y1="805.5" x2="541.6" y2="805.5" stroke="#1c1c1c" stroke-width="1.15" /><polygon points="164.8,805.5 173.3,804.0 173.3,807.0" fill="#222" stroke="none"/><polygon points="271.6,805.5 263.1,804.0 263.1,807.0" fill="#222" stroke="none"/><polygon points="271.6,805.5 280.1,804.0 280.1,807.0" fill="#222" stroke="none"/><polygon points="541.6,805.5 533.1,804.0 533.1,807.0" fill="#222" stroke="none"/><line x1="164.8" y1="800.5" x2="164.8" y2="847.5" stroke="#1c1c1c" stroke-width="1.25" /><line x1="271.6" y1="800.5" x2="271.6" y2="826.4" stroke="#1c1c1c" stroke-width="1.25" /><line x1="541.8" y1="800.5" x2="541.8" y2="821.4" stroke="#1c1c1c" stroke-width="1.25" /><text x="193.4" y="801.0" font-size="13.7" font-weight="400" text-anchor="start" textLength="58.8" lengthAdjust="spacingAndGlyphs" >27,6 (1.08)</text><text x="380.9" y="801.6" font-size="13.4" font-weight="400" text-anchor="start" textLength="49.0" lengthAdjust="spacingAndGlyphs" >70 (2.76)</text><line x1="99.3" y1="835.2" x2="230.2" y2="835.2" stroke="#1c1c1c" stroke-width="1.15" /><line x1="99.3" y1="908.6" x2="230.2" y2="908.6" stroke="#1c1c1c" stroke-width="1.15" /><line x1="102.1" y1="835.2" x2="102.1" y2="908.6" stroke="#1c1c1c" stroke-width="1.15" /><polygon points="102.1,835.2 100.6,843.7 103.6,843.7" fill="#222" stroke="none"/><polygon points="102.1,908.6 100.6,900.1 103.6,900.1" fill="#222" stroke="none"/><text x="0" y="0" font-size="17.0" text-anchor="start" textLength="88.0" lengthAdjust="spacingAndGlyphs" transform="translate(95.1,914.6) rotate(-90)">3/4-16 UNF-2A</text><line x1="136.6" y1="847.5" x2="165" y2="847.5" stroke="#1c1c1c" stroke-width="1.15" /><line x1="136.6" y1="896.1" x2="165" y2="896.1" stroke="#1c1c1c" stroke-width="1.15" /><line x1="139.1" y1="847.5" x2="139.1" y2="896.1" stroke="#1c1c1c" stroke-width="1.15" /><polygon points="139.1,847.5 137.6,856.0 140.6,856.0" fill="#222" stroke="none"/><polygon points="139.1,896.1 137.6,887.6 140.6,887.6" fill="#222" stroke="none"/><text x="0" y="0" font-size="13.8" text-anchor="start" textLength="29.0" lengthAdjust="spacingAndGlyphs" transform="translate(121.0,883.0) rotate(-90)">12,65</text><circle cx="116.8" cy="889.0" r="4.0" fill="none" stroke="#1c1c1c" stroke-width="0.9"/><line x1="111.8" y1="887.2" x2="121.8" y2="890.8" stroke="#1c1c1c" stroke-width="0.9" /><text x="0" y="0" font-size="15.0" text-anchor="start" textLength="30.8" lengthAdjust="spacingAndGlyphs" transform="translate(133.4,888.0) rotate(-90)">(0.49)</text><rect x="164.7" y="847.5" width="64.6" height="48.6" rx="0" fill="#fff" stroke="#1c1c1c" stroke-width="1.3" /><rect x="164.7" y="847.3" width="23" height="49.2" rx="0" fill="#fff" stroke="#1c1c1c" stroke-width="1.2" /><rect x="164.7" y="847.3" width="1.8" height="49.2" rx="0" fill="#777" stroke="none" /><rect x="171.2" y="846.4" width="4.200000000000017" height="51.2" rx="1.5" fill="#fff" stroke="#1c1c1c" stroke-width="1.1" /><rect x="176.4" y="846.4" width="4.0" height="51.2" rx="1.5" fill="#fff" stroke="#1c1c1c" stroke-width="1.1" /><line x1="170" y1="847.3" x2="170" y2="896.5" stroke="#1c1c1c" stroke-width="1.1" /><line x1="181.6" y1="847.3" x2="181.6" y2="896.5" stroke="#1c1c1c" stroke-width="1.1" /><circle cx="207.6" cy="859.9" r="6.1" fill="#fff" stroke="#1c1c1c" stroke-width="1.0"/><line x1="201.5" y1="859.9" x2="213.7" y2="859.9" stroke="#1c1c1c" stroke-width="1.15" /><circle cx="207.6" cy="883.1" r="6.1" fill="#fff" stroke="#1c1c1c" stroke-width="1.0"/><line x1="201.5" y1="883.1" x2="213.7" y2="883.1" stroke="#1c1c1c" stroke-width="1.15" /><line x1="207.6" y1="847.5" x2="207.6" y2="896.1" stroke="#1c1c1c" stroke-width="1.25" /><path d="M228.4,847.5 Q231,872 228.4,896.1" fill="none" stroke="#1c1c1c" stroke-width="1.6" stroke-linejoin="round" /><rect x="230.2" y="834.9" width="33.4" height="73.9" rx="3" fill="#fff" stroke="#1c1c1c" stroke-width="1.3" /><line x1="233.9" y1="835.5" x2="233.9" y2="908.3" stroke="#1c1c1c" stroke-width="1.25" /><line x1="259.9" y1="835.5" x2="259.9" y2="908.3" stroke="#1c1c1c" stroke-width="1.25" /><rect x="264.5" y="832.2" width="6.5" height="79.3" rx="3.2" fill="#fff" stroke="#1c1c1c" stroke-width="1.3" /><rect x="271.3" y="826.4" width="6.1" height="91.5" rx="0" fill="#fff" stroke="#1c1c1c" stroke-width="1.3" /><path d="M277.4,821 Q277.4,818.3 280,818.3 L307.9,818.3 Q310.5,818.3 310.5,821 L310.5,923 Q310.5,925.6 307.9,925.6 L280,925.6 Q277.4,925.6 277.4,923 Z" fill="#fff" stroke="#1c1c1c" stroke-width="1.3" stroke-linejoin="round" /><line x1="277.8" y1="845.1" x2="310.1" y2="845.1" stroke="#1c1c1c" stroke-width="1.35" /><line x1="277.8" y1="899" x2="310.1" y2="899" stroke="#1c1c1c" stroke-width="1.35" /><path d="M279,845.5 Q276.5,872 279,898.6" fill="none" stroke="#1c1c1c" stroke-width="0.8" stroke-linejoin="round" /><path d="M309,845.5 Q311.5,872 309,898.6" fill="none" stroke="#1c1c1c" stroke-width="0.8" stroke-linejoin="round" /><rect x="310.5" y="829.4" width="19.1" height="85" rx="0" fill="#fff" stroke="#1c1c1c" stroke-width="1.3" /><rect x="329.6" y="835.2" width="165.6" height="73.4" rx="0" fill="#fff" stroke="#1c1c1c" stroke-width="1.3" /><line x1="398.4" y1="835.2" x2="398.4" y2="908.6" stroke="#1c1c1c" stroke-width="1.25" /><line x1="415" y1="835.2" x2="415" y2="908.6" stroke="#1c1c1c" stroke-width="1.25" /><line x1="445.1" y1="835.2" x2="445.1" y2="908.6" stroke="#1c1c1c" stroke-width="1.25" /><line x1="372.8" y1="835.2" x2="372.8" y2="908.6" stroke="#1c1c1c" stroke-width="1.15" /><polygon points="372.8,835.2 371.3,843.7 374.3,843.7" fill="#222" stroke="none"/><polygon points="372.8,908.6 371.3,900.1 374.3,900.1" fill="#222" stroke="none"/><text x="0" y="0" font-size="15.4" text-anchor="start" textLength="15.6" lengthAdjust="spacingAndGlyphs" transform="translate(368.1,873.4) rotate(-90)">19</text><circle cx="363.3" cy="879.6" r="4.4" fill="none" stroke="#1c1c1c" stroke-width="0.9"/><line x1="357.8" y1="877.62" x2="368.8" y2="881.58" stroke="#1c1c1c" stroke-width="0.9" /><text x="0" y="0" font-size="15.5" text-anchor="start" textLength="35.2" lengthAdjust="spacingAndGlyphs" transform="translate(387.1,887.4) rotate(-90)">(0.75)</text><rect x="495.2" y="826" width="3.4" height="91.8" rx="1.7" fill="#fff" stroke="#1c1c1c" stroke-width="1.3" /><rect x="498.6" y="815.4" width="3.5" height="112.7" rx="0" fill="#fff" stroke="#1c1c1c" stroke-width="1.3" /><path d="M502.1,811 Q502.1,809.1 504,809.1 L523.5,809.1 Q525.5,809.1 525.5,811 Q527,872 525.5,933 Q525.5,935 523.5,935 L504,935 Q502.1,935 502.1,933 Z" fill="#fff" stroke="#1c1c1c" stroke-width="1.3" stroke-linejoin="round" /><line x1="502.5" y1="833.9" x2="525.5" y2="833.9" stroke="#1c1c1c" stroke-width="1.35" /><line x1="502.5" y1="847.7" x2="525.5" y2="847.7" stroke="#1c1c1c" stroke-width="1.35" /><line x1="502.5" y1="896.4" x2="525.5" y2="896.4" stroke="#1c1c1c" stroke-width="1.35" /><line x1="502.5" y1="909.8" x2="525.5" y2="909.8" stroke="#1c1c1c" stroke-width="1.35" /><path d="M525.5,822 A5.55,5.55 0 0 0 536.6,822" fill="none" stroke="#1c1c1c" stroke-width="1.3" stroke-linejoin="round" /><path d="M525.5,922 A5.55,5.55 0 0 1 536.6,922" fill="none" stroke="#1c1c1c" stroke-width="1.3" stroke-linejoin="round" /><rect x="536.6" y="821.2" width="6.2" height="101.4" rx="1.8" fill="#fff" stroke="#1c1c1c" stroke-width="1.3" /><line x1="164.5" y1="872" x2="352" y2="872" stroke="#141414" stroke-width="1.1" stroke-dasharray="14 2.6 1 2.6"/><line x1="395" y1="872" x2="544" y2="872" stroke="#141414" stroke-width="1.1" stroke-dasharray="14 2.6 1 2.6"/>
</svg>
<div class="t" style="left:686.2px;top:1067.8px;font-size:11.5px;-webkit-text-stroke:0.2px #222;">5</div>
<svg width="700" height="1087" style="position:absolute;left:0;top:0">
<rect x="658" y="1066.1" width="12" height="5.7" fill="#e5232b"/>
<rect x="630.9" y="1072" width="11.8" height="5.7" fill="#27a9e1"/>
<text x="631.3" y="1071.7" font-size="6.6" font-weight="700" textLength="24.8" lengthAdjust="spacing" style="font-family:'Liberation Sans';fill:#1a1a1a;stroke:#1a1a1a;stroke-width:0.35">ARGO</text>
<text x="644.1" y="1077.6" font-size="6.6" font-weight="700" textLength="25.2" lengthAdjust="spacing" style="font-family:'Liberation Sans';fill:#1a1a1a;stroke:#1a1a1a;stroke-width:0.35">HYTOS</text>
</svg>
</body></html>
